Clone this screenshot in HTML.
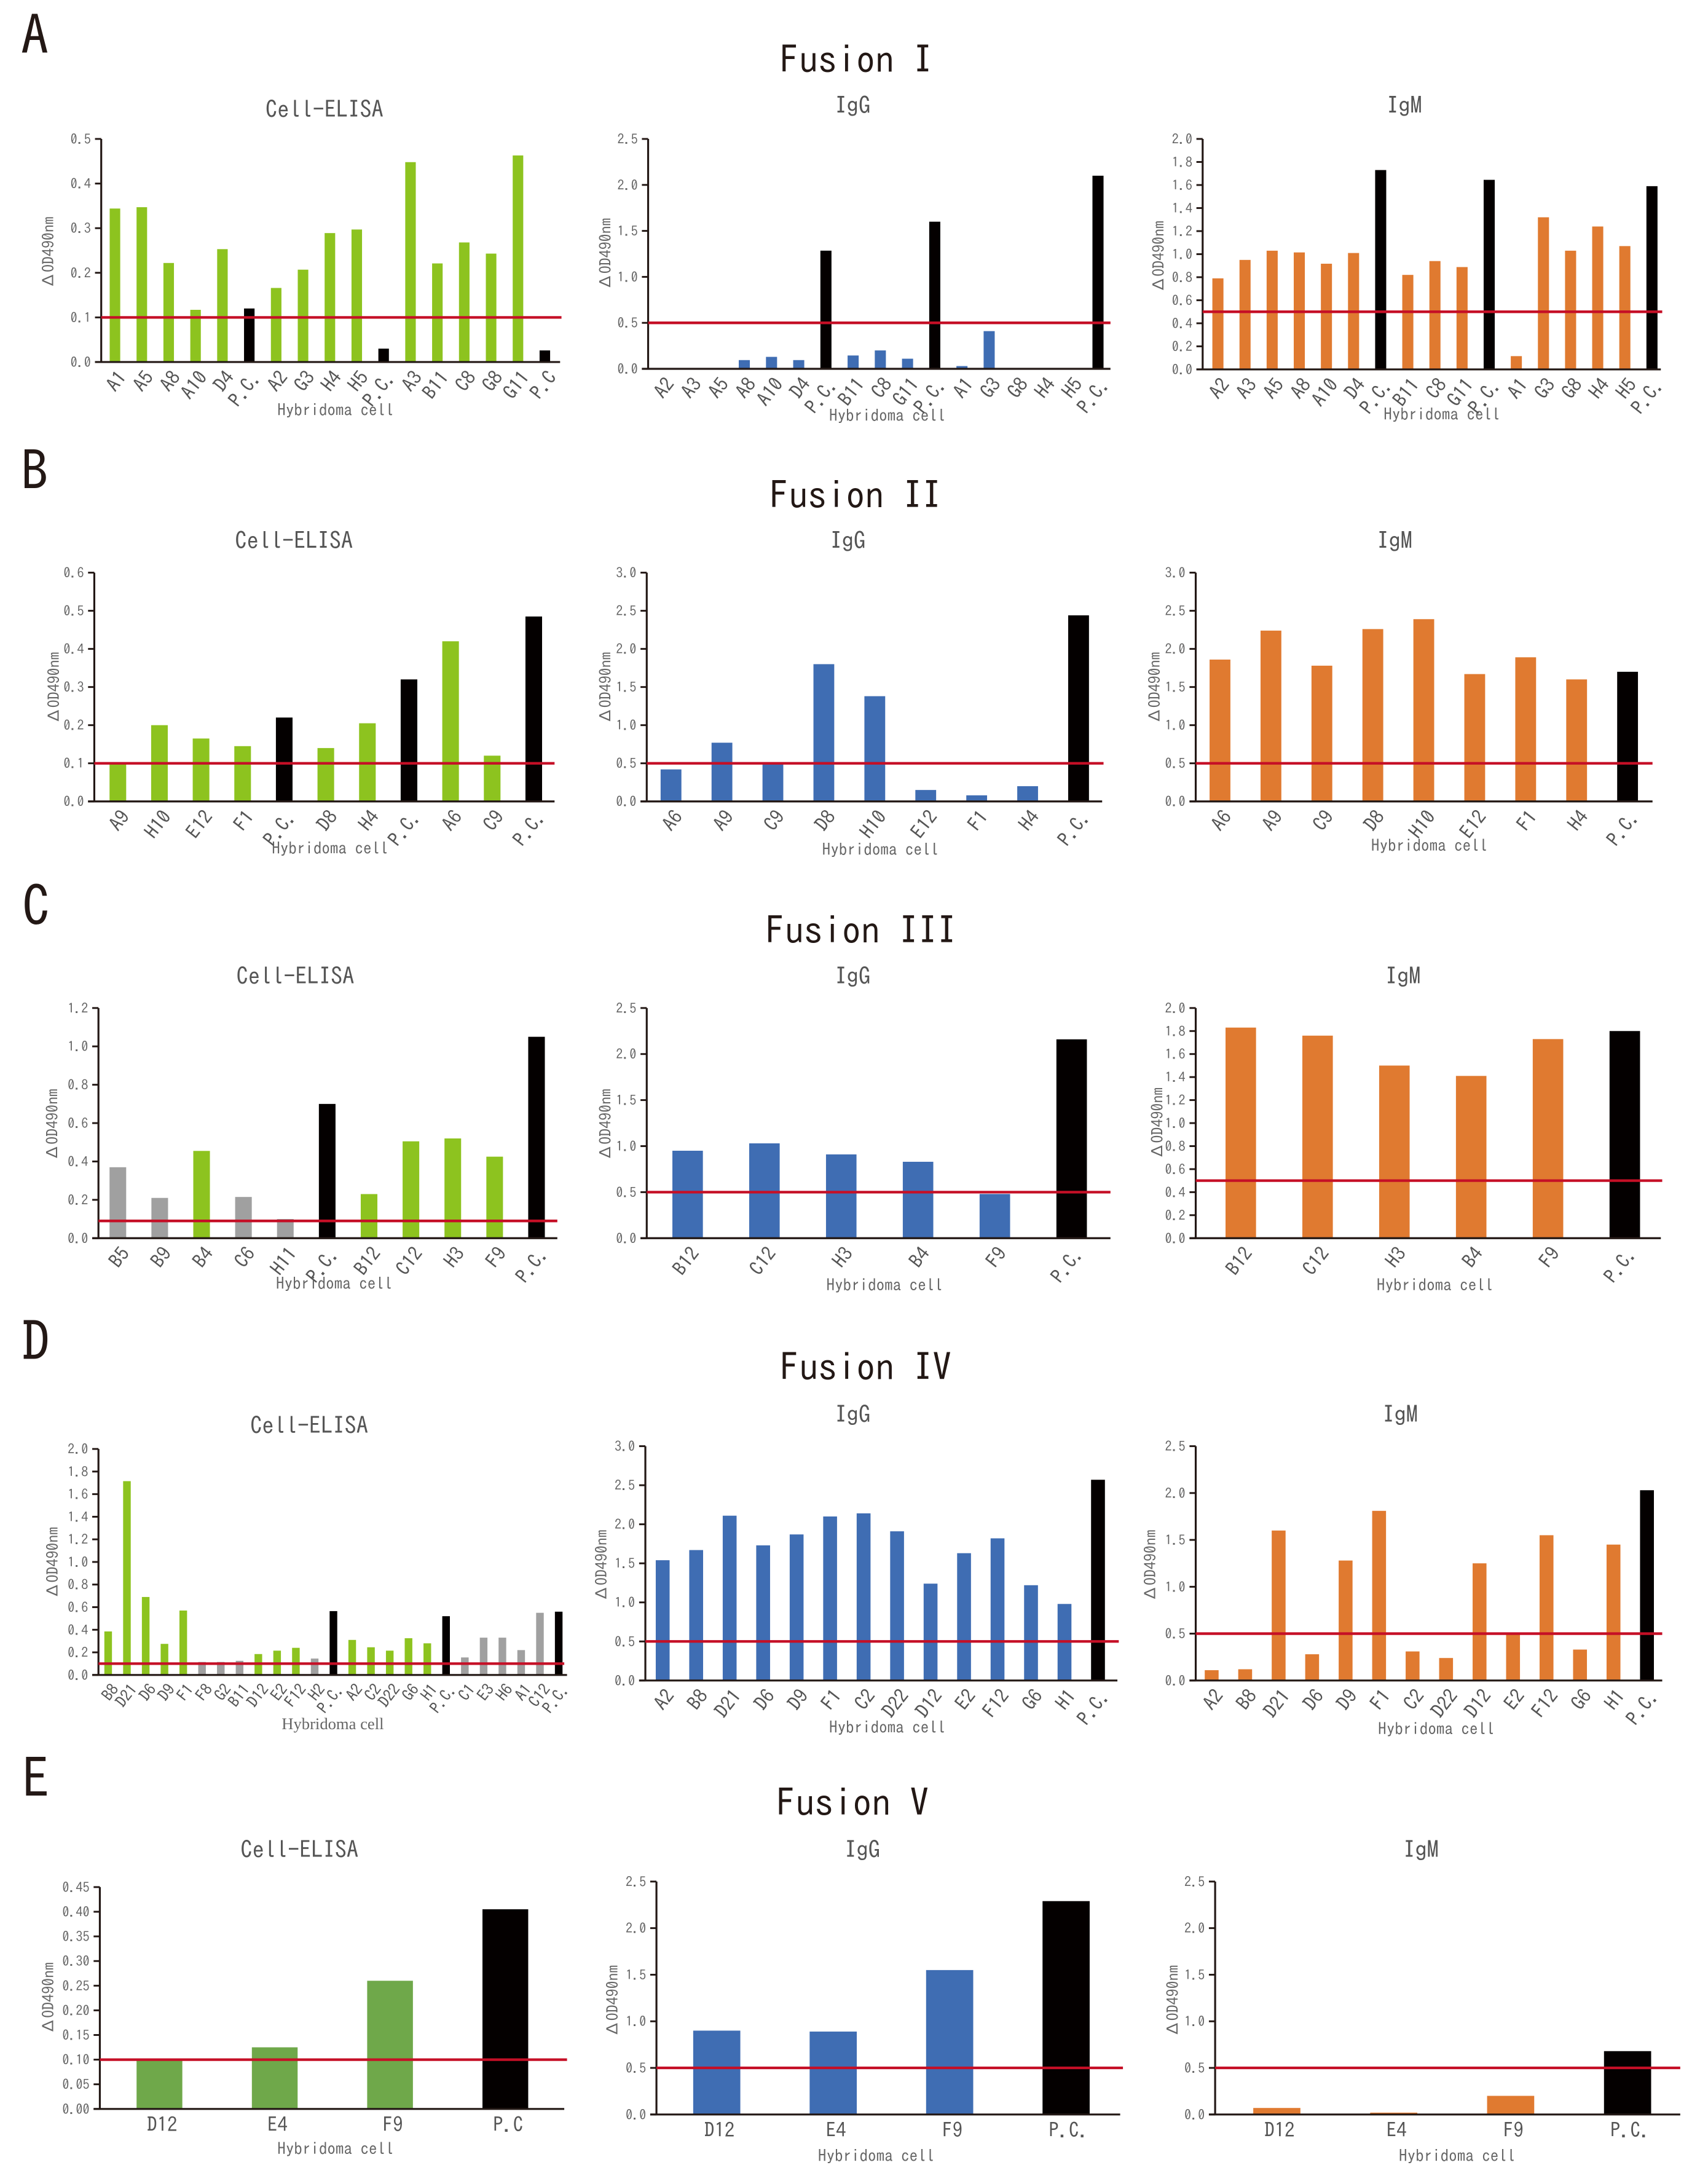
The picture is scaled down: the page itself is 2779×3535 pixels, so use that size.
<!DOCTYPE html>
<html lang="en">
<head>
<meta charset="utf-8">
<title>Fusion I-V hybridoma ELISA screening</title>
<style>
html,body{margin:0;padding:0;background:#fff;}
svg{display:block;}
text{font-family:"IPAGothic","Liberation Sans","Noto Sans CJK JP",sans-serif;}
.letter{font-size:40px;fill:#231815;}
.fusion{font-size:27.5px;fill:#231815;text-anchor:middle;}
.ctitle{font-size:17px;fill:#555;text-anchor:middle;}
.xtitle{font-size:12px;fill:#666;text-anchor:middle;}
.ytitle{font-size:11.5px;fill:#666;text-anchor:middle;dominant-baseline:central;}
</style>
</head>
<body>
<svg id="figure" xmlns="http://www.w3.org/2000/svg" width="2779" height="3535" viewBox="0 0 1232 1567.2">
<rect x="0" y="0" width="1232" height="1568" fill="#ffffff"/>

<text class="letter" x="15" y="40">A</text>
<text class="fusion" x="617.5" y="53">Fusion I</text>
<g id="chart-a1">
<text class="ctitle" x="234" y="85">Cell-ELISA</text>
<text class="ytitle" x="35" y="182" transform="rotate(-90 35 182)">ΔOD490nm</text>
<text class="xtitle" x="242" y="300">Hybridoma cell</text>
</g>
<g id="chart-a2">
<text class="ctitle" x="615" y="82">IgG</text>
<text class="ytitle" x="437" y="183" transform="rotate(-90 437 183)">ΔOD490nm</text>
<text class="xtitle" x="640" y="304">Hybridoma cell</text>
</g>
<g id="chart-a3">
<text class="ctitle" x="1013" y="82">IgM</text>
<text class="ytitle" x="836" y="185" transform="rotate(-90 836 185)">ΔOD490nm</text>
<text class="xtitle" x="1040" y="303">Hybridoma cell</text>
</g>

<text class="letter" x="15" y="354">B</text>
<text class="fusion" x="617" y="367">Fusion II</text>
<g id="chart-b1">
<text class="ctitle" x="212" y="396">Cell-ELISA</text>
<text class="ytitle" x="39" y="496" transform="rotate(-90 39 496)">ΔOD490nm</text>
<text class="xtitle" x="238" y="616">Hybridoma cell</text>
</g>
<g id="chart-b2">
<text class="ctitle" x="611.5" y="396">IgG</text>
<text class="ytitle" x="437" y="496" transform="rotate(-90 437 496)">ΔOD490nm</text>
<text class="xtitle" x="635" y="617">Hybridoma cell</text>
</g>
<g id="chart-b3">
<text class="ctitle" x="1006" y="396">IgM</text>
<text class="ytitle" x="833" y="496" transform="rotate(-90 833 496)">ΔOD490nm</text>
<text class="xtitle" x="1031" y="614">Hybridoma cell</text>
</g>

<text class="letter" x="16" y="668">C</text>
<text class="fusion" x="621" y="681">Fusion III</text>
<g id="chart-c1">
<text class="ctitle" x="213" y="710">Cell-ELISA</text>
<text class="ytitle" x="38" y="811" transform="rotate(-90 38 811)">ΔOD490nm</text>
<text class="xtitle" x="241" y="930">Hybridoma cell</text>
</g>
<g id="chart-c2">
<text class="ctitle" x="615" y="710">IgG</text>
<text class="ytitle" x="437" y="811" transform="rotate(-90 437 811)">ΔOD490nm</text>
<text class="xtitle" x="638" y="931">Hybridoma cell</text>
</g>
<g id="chart-c3">
<text class="ctitle" x="1012" y="710">IgM</text>
<text class="ytitle" x="835" y="810" transform="rotate(-90 835 810)">ΔOD490nm</text>
<text class="xtitle" x="1035" y="931">Hybridoma cell</text>
</g>

<text class="letter" x="16" y="982">D</text>
<text class="fusion" x="624.5" y="996">Fusion IV</text>
<g id="chart-d1">
<text class="ctitle" x="223" y="1034">Cell-ELISA</text>
<text class="ytitle" x="38" y="1127" transform="rotate(-90 38 1127)">ΔOD490nm</text>
<text class="xtitle" x="240" y="1247" style="font-family:'Liberation Serif',serif;font-size:11.8px">Hybridoma cell</text>
</g>
<g id="chart-d2">
<text class="ctitle" x="615" y="1026">IgG</text>
<text class="ytitle" x="434" y="1129" transform="rotate(-90 434 1129)">ΔOD490nm</text>
<text class="xtitle" x="640" y="1250">Hybridoma cell</text>
</g>
<g id="chart-d3">
<text class="ctitle" x="1010" y="1026">IgM</text>
<text class="ytitle" x="830" y="1129" transform="rotate(-90 830 1129)">ΔOD490nm</text>
<text class="xtitle" x="1036" y="1251">Hybridoma cell</text>
</g>

<text class="letter" x="16" y="1297">E</text>
<text class="fusion" x="615" y="1310">Fusion V</text>
<g id="chart-e1">
<text class="ctitle" x="216" y="1340">Cell-ELISA</text>
<text class="ytitle" x="35" y="1441" transform="rotate(-90 35 1441)">ΔOD490nm</text>
<text class="xtitle" x="242" y="1554">Hybridoma cell</text>
</g>
<g id="chart-e2">
<text class="ctitle" x="622" y="1340">IgG</text>
<text class="ytitle" x="442" y="1443" transform="rotate(-90 442 1443)">ΔOD490nm</text>
<text class="xtitle" x="632" y="1559">Hybridoma cell</text>
</g>
<g id="chart-e3">
<text class="ctitle" x="1025" y="1340">IgM</text>
<text class="ytitle" x="846" y="1443" transform="rotate(-90 846 1443)">ΔOD490nm</text>
<text class="xtitle" x="1051" y="1559">Hybridoma cell</text>
</g>
</svg>

<script>
// ---- chart data ----
const a1Categories = ['A1','A5','A8','A10','D4','P.C.','A2','G3','H4','H5','P.C.','A3','B11','C8','G8','G11','P.C'];
const a1Values = [0.344,0.347,0.222,0.117,0.253,0.12,0.166,0.207,0.289,0.297,0.03,0.448,0.221,0.268,0.243,0.463,0.026];
const a1Ticks = ['0.0','0.1','0.2','0.3','0.4','0.5'];
const a1Cutoff = 0.1;
const a1Negative = [];

const a2Categories = ['A2','A3','A5','A8','A10','D4','P.C.','B11','C8','G11','P.C.','A1','G3','G8','H4','H5','P.C.'];
const a2Values = [0,0,0,0.095,0.13,0.095,1.285,0.145,0.2,0.11,1.6,0.03,0.41,0,0,0,2.1];
const a2Ticks = ['0.0','0.5','1.0','1.5','2.0','2.5'];
const a2Cutoff = 0.5;
const a2Negative = [];

const a3Categories = ['A2','A3','A5','A8','A10','D4','P.C.','B11','C8','G11','P.C.','A1','G3','G8','H4','H5','P.C.'];
const a3Values = [0.79,0.95,1.03,1.015,0.917,1.01,1.73,0.82,0.94,0.888,1.645,0.115,1.32,1.03,1.24,1.07,1.59];
const a3Ticks = ['0.0','0.2','0.4','0.6','0.8','1.0','1.2','1.4','1.6','1.8','2.0'];
const a3Cutoff = 0.5;
const a3Negative = [];

const b1Categories = ['A9','H10','E12','F1','P.C.','D8','H4','P.C.','A6','C9','P.C.'];
const b1Values = [0.1,0.2,0.165,0.145,0.22,0.14,0.205,0.32,0.42,0.12,0.485];
const b1Ticks = ['0.0','0.1','0.2','0.3','0.4','0.5','0.6'];
const b1Cutoff = 0.1;
const b1Negative = [];

const b2Categories = ['A6','A9','C9','D8','H10','E12','F1','H4','P.C.'];
const b2Values = [0.42,0.77,0.5,1.8,1.38,0.15,0.08,0.2,2.44];
const b2Ticks = ['0.0','0.5','1.0','1.5','2.0','2.5','3.0'];
const b2Cutoff = 0.5;
const b2Negative = [];

const b3Categories = ['A6','A9','C9','D8','H10','E12','F1','H4','P.C.'];
const b3Values = [1.86,2.24,1.78,2.26,2.39,1.67,1.89,1.6,1.7];
const b3Ticks = ['0.0','0.5','1.0','1.5','2.0','2.5','3.0'];
const b3Cutoff = 0.5;
const b3Negative = [];

const c1Categories = ['B5','B9','B4','C6','H11','P.C.','B12','C12','H3','F9','P.C.'];
const c1Values = [0.37,0.21,0.455,0.215,0.1,0.7,0.23,0.505,0.52,0.425,1.05];
const c1Ticks = ['0.0','0.2','0.4','0.6','0.8','1.0','1.2'];
const c1Cutoff = 0.09;
const c1Negative = ['B5','B9','C6','H11'];

const c2Categories = ['B12','C12','H3','B4','F9','P.C.'];
const c2Values = [0.95,1.03,0.91,0.83,0.48,2.16];
const c2Ticks = ['0.0','0.5','1.0','1.5','2.0','2.5'];
const c2Cutoff = 0.5;
const c2Negative = [];

const c3Categories = ['B12','C12','H3','B4','F9','P.C.'];
const c3Values = [1.83,1.76,1.5,1.41,1.73,1.8];
const c3Ticks = ['0.0','0.2','0.4','0.6','0.8','1.0','1.2','1.4','1.6','1.8','2.0'];
const c3Cutoff = 0.5;
const c3Negative = [];

const d1Categories = ['B8','D21','D6','D9','F1','F8','G2','B11','D12','E2','F12','H2','P.C.','A2','C2','D22','G6','H1','P.C.','C1','E3','H6','A1','C12','P.C.'];
const d1Values = [0.385,1.715,0.69,0.275,0.57,0.115,0.115,0.125,0.185,0.215,0.24,0.145,0.565,0.31,0.245,0.215,0.325,0.28,0.52,0.155,0.33,0.33,0.22,0.55,0.56];
const d1Ticks = ['0.0','0.2','0.4','0.6','0.8','1.0','1.2','1.4','1.6','1.8','2.0'];
const d1Cutoff = 0.1;
const d1Negative = ['F8','G2','B11','H2','C1','E3','H6','A1','C12'];

const d2Categories = ['A2','B8','D21','D6','D9','F1','C2','D22','D12','E2','F12','G6','H1','P.C.'];
const d2Values = [1.54,1.67,2.11,1.73,1.87,2.1,2.14,1.91,1.24,1.63,1.82,1.22,0.98,2.57];
const d2Ticks = ['0.0','0.5','1.0','1.5','2.0','2.5','3.0'];
const d2Cutoff = 0.5;
const d2Negative = [];

const d3Categories = ['A2','B8','D21','D6','D9','F1','C2','D22','D12','E2','F12','G6','H1','P.C.'];
const d3Values = [0.11,0.12,1.6,0.28,1.28,1.81,0.31,0.24,1.25,0.5,1.55,0.33,1.45,2.03];
const d3Ticks = ['0.0','0.5','1.0','1.5','2.0','2.5'];
const d3Cutoff = 0.5;
const d3Negative = [];

const e1Categories = ['D12','E4','F9','P.C'];
const e1Values = [0.1,0.125,0.26,0.405];
const e1Ticks = ['0.00','0.05','0.10','0.15','0.20','0.25','0.30','0.35','0.40','0.45'];
const e1Cutoff = 0.1;
const e1Negative = [];

const e2Categories = ['D12','E4','F9','P.C.'];
const e2Values = [0.9,0.89,1.55,2.29];
const e2Ticks = ['0.0','0.5','1.0','1.5','2.0','2.5'];
const e2Cutoff = 0.5;
const e2Negative = [];

const e3Categories = ['D12','E4','F9','P.C.'];
const e3Values = [0.07,0.02,0.2,0.68];
const e3Ticks = ['0.0','0.5','1.0','1.5','2.0','2.5'];
const e3Cutoff = 0.5;
const e3Negative = [];

// ---- palette ----
const GREEN = '#8dc31f', BLUE = '#3f6db3', ORANGE = '#e07a30', DGREEN = '#6fa84a';
const CONTROL = '#040000', NEGATIVE = '#a0a0a0', CUTOFF = '#c50f26', AXIS = '#231815';

// ---- layout: plot frames, not data ----
const panels = [
 {id:'chart-a1',cats:a1Categories,vals:a1Values,ticks:a1Ticks,cut:a1Cutoff,neg:a1Negative,color:GREEN,axisX:73,top:100.2,bottom:261.1,end:404,first:82.9,last:393,barW:7.6,lineEnd:405,catSize:14},
 {id:'chart-a2',cats:a2Categories,vals:a2Values,ticks:a2Ticks,cut:a2Cutoff,neg:a2Negative,color:BLUE,axisX:467.5,top:100.2,bottom:266,end:801,first:478,last:792,barW:8,lineEnd:801,catSize:14},
 {id:'chart-a3',cats:a3Categories,vals:a3Values,ticks:a3Ticks,cut:a3Cutoff,neg:a3Negative,color:ORANGE,axisX:867.5,top:100.2,bottom:266.4,end:1198,first:878.5,last:1191.6,barW:8,lineEnd:1199,catSize:14},
 {id:'chart-b1',cats:b1Categories,vals:b1Values,ticks:b1Ticks,cut:b1Cutoff,neg:b1Negative,color:GREEN,axisX:68,top:413,bottom:578,end:400,first:85,last:385,barW:12,lineEnd:400,catSize:14},
 {id:'chart-b2',cats:b2Categories,vals:b2Values,ticks:b2Ticks,cut:b2Cutoff,neg:b2Negative,color:BLUE,axisX:466.5,top:413,bottom:578,end:795,first:484,last:778,barW:15,lineEnd:796,catSize:14},
 {id:'chart-b3',cats:b3Categories,vals:b3Values,ticks:b3Ticks,cut:b3Cutoff,neg:b3Negative,color:ORANGE,axisX:862.5,top:413,bottom:578,end:1192,first:880,last:1174,barW:15,lineEnd:1192,catSize:14},
 {id:'chart-c1',cats:c1Categories,vals:c1Values,ticks:c1Ticks,cut:c1Cutoff,neg:c1Negative,color:GREEN,axisX:71,top:727,bottom:893,end:402,first:85,last:387,barW:12,lineEnd:402,catSize:14},
 {id:'chart-c2',cats:c2Categories,vals:c2Values,ticks:c2Ticks,cut:c2Cutoff,neg:c2Negative,color:BLUE,axisX:466.5,top:727,bottom:893,end:801,first:496,last:773,barW:22,lineEnd:801,catSize:14},
 {id:'chart-c3',cats:c3Categories,vals:c3Values,ticks:c3Ticks,cut:c3Cutoff,neg:c3Negative,color:ORANGE,axisX:862.5,top:727,bottom:893,end:1198,first:895,last:1172,barW:22,lineEnd:1199,catSize:14},
 {id:'chart-d1',cats:d1Categories,vals:d1Values,ticks:d1Ticks,cut:d1Cutoff,neg:d1Negative,color:GREEN,axisX:71,top:1045,bottom:1208,end:409,first:78,last:403,barW:5.5,lineEnd:407,catSize:11.5},
 {id:'chart-d2',cats:d2Categories,vals:d2Values,ticks:d2Ticks,cut:d2Cutoff,neg:d2Negative,color:BLUE,axisX:465.5,top:1043,bottom:1212,end:806,first:478,last:792,barW:10,lineEnd:807,catSize:14},
 {id:'chart-d3',cats:d3Categories,vals:d3Values,ticks:d3Ticks,cut:d3Cutoff,neg:d3Negative,color:ORANGE,axisX:862.5,top:1043,bottom:1212,end:1199,first:874,last:1188,barW:10,lineEnd:1199,catSize:14},
 {id:'chart-e1',cats:e1Categories,vals:e1Values,ticks:e1Ticks,cut:e1Cutoff,neg:e1Negative,color:DGREEN,axisX:72,top:1361,bottom:1521,end:407,first:115,last:364.5,barW:33,lineEnd:409,catSize:14.5,flat:true},
 {id:'chart-e2',cats:e2Categories,vals:e2Values,ticks:e2Ticks,cut:e2Cutoff,neg:e2Negative,color:BLUE,axisX:473.5,top:1357,bottom:1525,end:808,first:517,last:769,barW:34,lineEnd:810,catSize:14.5,flat:true},
 {id:'chart-e3',cats:e3Categories,vals:e3Values,ticks:e3Ticks,cut:e3Cutoff,neg:e3Negative,color:ORANGE,axisX:876.5,top:1357,bottom:1525,end:1212,first:921,last:1174,barW:34,lineEnd:1212,catSize:14.5,flat:true}
];

const SVGNS = 'http://www.w3.org/2000/svg';
function make(tag, parent, attrs) {
  const node = document.createElementNS(SVGNS, tag);
  for (const key in attrs) node.setAttribute(key, attrs[key]);
  parent.appendChild(node);
  return node;
}

function yScale(p) {
  const max = parseFloat(p.ticks[p.ticks.length - 1]);
  return function (v) { return p.bottom - (v / max) * (p.bottom - p.top); };
}
function xScale(p) {
  const step = (p.last - p.first) / (p.cats.length - 1);
  return function (i) { return p.first + i * step; };
}

panels.forEach(function (p) {
  const g = document.getElementById(p.id);
  const y = yScale(p);
  const x = xScale(p);

  p.cats.forEach(function (name, i) {
    const isControl = name.indexOf('P.') === 0;
    const isNegative = p.neg.indexOf(name) >= 0;
    const fill = isControl ? CONTROL : (isNegative ? NEGATIVE : p.color);
    const el = make('rect', g, {x: x(i) - p.barW / 2, y: y(p.vals[i]), width: p.barW, height: p.bottom - y(p.vals[i]), fill: fill});
    
    
    const lx = p.flat ? x(i) + 2 : x(i) + 5;
    const ly = p.flat ? p.bottom + 11 : p.bottom + 8;
    const attrs = {x: lx, y: ly, 'font-size': p.catSize, fill: '#555', 'dominant-baseline': 'central', 'text-anchor': p.flat ? 'middle' : 'end'};
    if (!p.flat) attrs.transform = 'rotate(-52 ' + lx + ' ' + ly + ')';
    const lab = make('text', g, attrs);
    lab.textContent = name;
    
    
  });

  p.ticks.forEach(function (label) {
    const ty = y(parseFloat(label));
    const tick = make('line', g, {x1: p.axisX - 4.5, x2: p.axisX, y1: ty, y2: ty, stroke: AXIS, 'stroke-width': 1.3});
    
    
    const t = make('text', g, {x: p.axisX - 7.5, y: ty, 'font-size': 9.8, fill: '#666', 'text-anchor': 'end', 'dominant-baseline': 'central'});
    t.textContent = label;
    
    
  });

  const yAxis = make('line', g, {x1: p.axisX, x2: p.axisX, y1: p.top, y2: p.bottom, stroke: AXIS, 'stroke-width': 1.4});
  
  
  const xAxis = make('line', g, {x1: p.axisX - 4.5, x2: p.end, y1: p.bottom, y2: p.bottom, stroke: AXIS, 'stroke-width': 1.4});
  
  
  const cut = make('line', g, {x1: p.axisX, x2: p.lineEnd, y1: y(p.cut), y2: y(p.cut), stroke: CUTOFF, 'stroke-width': 1.9});
  
  
});
</script>
</body>
</html>
